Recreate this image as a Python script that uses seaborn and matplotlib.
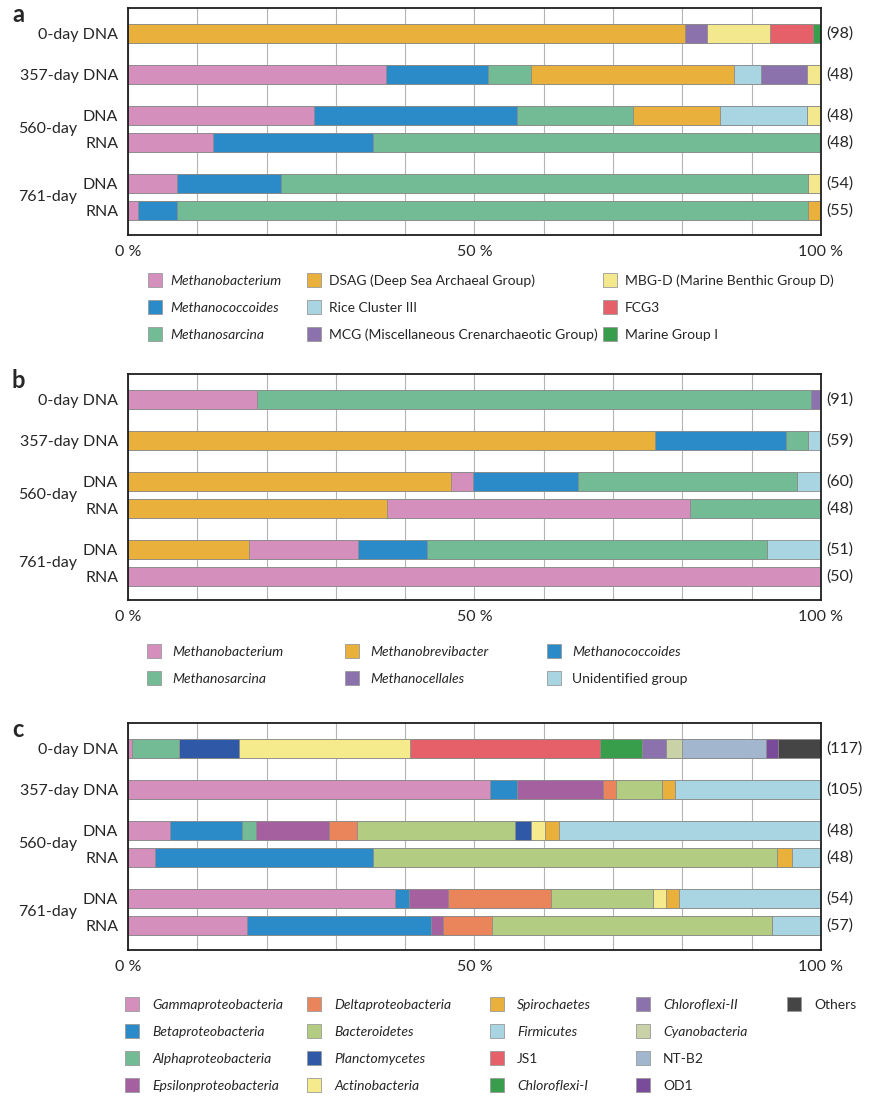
import numpy as np
import pandas as pd
import seaborn as sns
import matplotlib.pyplot as plt
from matplotlib.patches import Patch

sns.set_style("white")
plt.rcParams["font.family"] = ["Lato", "DejaVu Sans"]

# rows: 0-day DNA, 357-day DNA, 560-day DNA, 560-day RNA, 761-day DNA, 761-day RNA
row_labels = ["0-day DNA", "357-day DNA", "DNA", "RNA", "DNA", "RNA"]
day_labels = ["560-day", "761-day"]

# a: archaea (mcrA / 16S)
groups_a = ["Methanobacterium", "Methanococcoides", "Methanosarcina",
            "DSAG (Deep Sea Archaeal Group)", "Rice Cluster III",
            "MCG (Miscellaneous Crenarchaeotic Group)",
            "MBG-D (Marine Benthic Group D)", "FCG3", "Marine Group I"]
values_a = [
    [0, 0, 0, 80.4, 0, 3.2, 9.1, 6.2, 1.1],
    [37.2, 14.8, 6.2, 29.2, 4.0, 6.6, 2.0, 0, 0],
    [26.9, 29.2, 16.8, 12.5, 12.6, 0, 2.0, 0, 0],
    [12.2, 23.1, 64.7, 0, 0, 0, 0, 0, 0],
    [7.1, 15.0, 76.0, 0, 0, 0, 1.9, 0, 0],
    [1.5, 5.6, 91.0, 1.9, 0, 0, 0, 0, 0],
]
counts_a = [98, 48, 48, 48, 54, 55]

# b: methanogens
groups_b = ["Methanobrevibacter", "Methanobacterium", "Methanococcoides",
            "Methanosarcina", "Methanocellales", "Unidentified group"]
values_b = [
    [0, 18.6, 0, 80.0, 1.4, 0],
    [76.1, 0, 18.8, 3.2, 0, 1.9],
    [46.6, 3.2, 15.1, 31.7, 0, 3.4],
    [37.4, 43.7, 0, 18.9, 0, 0],
    [17.5, 15.7, 10.0, 49.0, 0, 7.8],
    [0, 100.0, 0, 0, 0, 0],
]
counts_b = [91, 59, 60, 48, 51, 50]
legend_b = ["Methanobacterium", "Methanosarcina", "Methanobrevibacter",
            "Methanocellales", "Methanococcoides", "Unidentified group"]

# c: bacteria
groups_c = ["Gammaproteobacteria", "Betaproteobacteria", "Alphaproteobacteria",
            "Epsilonproteobacteria", "Deltaproteobacteria", "Bacteroidetes",
            "Planctomycetes", "Actinobacteria", "Spirochaetes", "Firmicutes",
            "JS1", "Chloroflexi-I", "Chloroflexi-II", "Cyanobacteria", "NT-B2",
            "OD1", "Others"]
values_c = [
    [0.6, 0, 6.7, 0, 0, 0, 8.7, 24.7, 0, 0, 27.4, 6.0, 3.5, 2.4, 12.1, 1.7, 6.2],
    [52.2, 3.9, 0, 12.4, 1.9, 6.6, 0, 0, 2.0, 21.0, 0, 0, 0, 0, 0, 0, 0],
    [6.0, 10.5, 1.9, 10.6, 4.1, 22.8, 2.2, 2.1, 2.0, 37.8, 0, 0, 0, 0, 0, 0, 0],
    [3.9, 31.4, 0, 0, 0, 58.4, 0, 0, 2.1, 4.2, 0, 0, 0, 0, 0, 0, 0],
    [38.6, 2.0, 0, 5.6, 14.8, 14.8, 0, 1.8, 1.9, 20.5, 0, 0, 0, 0, 0, 0, 0],
    [17.2, 26.5, 0, 1.8, 7.0, 40.5, 0, 0, 0, 7.0, 0, 0, 0, 0, 0, 0, 0],
]
counts_c = [117, 105, 48, 48, 54, 57]

colors = {
    "Methanobacterium": "#d48fbd", "Methanococcoides": "#2a8bc8",
    "Methanosarcina": "#72bb94", "DSAG (Deep Sea Archaeal Group)": "#e9b13b",
    "Rice Cluster III": "#a9d5e3",
    "MCG (Miscellaneous Crenarchaeotic Group)": "#8b72ad",
    "MBG-D (Marine Benthic Group D)": "#f4e88f", "FCG3": "#e6606a",
    "Marine Group I": "#399e4b", "Methanobrevibacter": "#e9b13b",
    "Methanocellales": "#8b72ad", "Unidentified group": "#a9d5e3",
    "Gammaproteobacteria": "#d48fbd", "Betaproteobacteria": "#2a8bc8",
    "Alphaproteobacteria": "#72bb94", "Epsilonproteobacteria": "#a5609f",
    "Deltaproteobacteria": "#ea845a", "Bacteroidetes": "#b2cd81",
    "Planctomycetes": "#2f58a6", "Actinobacteria": "#f5eb8d",
    "Spirochaetes": "#e9b13b", "Firmicutes": "#a9d5e3", "JS1": "#e6606a",
    "Chloroflexi-I": "#399e4b", "Chloroflexi-II": "#8b72ad",
    "Cyanobacteria": "#c9d2a6", "NT-B2": "#a2b7cd", "OD1": "#7b4b9b",
    "Others": "#454545",
}
upright = {"DSAG (Deep Sea Archaeal Group)", "Rice Cluster III",
           "MCG (Miscellaneous Crenarchaeotic Group)",
           "MBG-D (Marine Benthic Group D)", "FCG3", "Marine Group I",
           "Unidentified group", "JS1", "NT-B2", "OD1", "Others"}

# layout (pixels of the 878x1097 figure)
W, H = 878, 1097
row_pos = [0, 41, 82, 109, 150, 177]
bar_w = 19 / 27
edge = "#8c8c8c"


def fx(px):
    return px / W


def fy(py):
    return 1 - py / H


fig = plt.figure(figsize=(W / 100, H / 100), dpi=100)


def draw_panel(top, bottom, letter, groups, values, counts):
    ax = fig.add_axes([fx(128), fy(bottom), (821 - 128) / W, (bottom - top) / H])
    cum = np.array(values).cumsum(axis=1)
    # overlay cumulative bars, widest first
    for j in range(len(groups) - 1, -1, -1):
        df = pd.DataFrame({"pos": row_pos, "cum": cum[:, j]})
        sns.barplot(data=df, x="cum", y="pos", orient="y", native_scale=True,
                    color=colors[groups[j]], saturation=1, width=bar_w,
                    edgecolor=edge, linewidth=0.6, errorbar=None, ax=ax)
    ax.set_xlim(0, 100)
    ax.set_ylim(201, -25.5)
    ax.set_xlabel("")
    ax.set_ylabel("")
    ax.set_xticks([0, 50, 100], ["0 %", "50 %", "100 %"])
    ax.set_xticks(range(10, 100, 10), minor=True)
    ax.set_yticks(row_pos, row_labels)
    ax.tick_params(axis="both", which="both", length=0, labelsize=11.5)
    ax.tick_params(axis="y", pad=7)
    ax.tick_params(axis="x", pad=7)
    ax.grid(axis="x", which="both", color="#b4b4b4", linewidth=0.8)
    ax.set_axisbelow(True)
    for s in ax.spines.values():
        s.set_color("#1e1e1e")
        s.set_linewidth(1.3)
    tr = ax.get_yaxis_transform()
    for k, lab in enumerate(day_labels):
        mid = (row_pos[2 + 2 * k] + row_pos[3 + 2 * k]) / 2
        ax.text(-0.0736, mid, lab, transform=tr, ha="right", va="center",
                fontsize=11.5)
    for p, n in zip(row_pos, counts):
        ax.text(1.008, p, f"({n})", transform=tr, ha="left", va="center",
                fontsize=11.5)
    fig.text(fx(12), fy(top + 14), letter, fontsize=17, fontweight="bold")
    return ax


def add_legend(names, col_x, row_y, text_off, nrows, fs=10):
    fs_px = fs * 100 / 72
    for k, name in enumerate(names):
        c, r = divmod(k, nrows)
        h = Patch(facecolor=colors[name], edgecolor="#9a9a9a", linewidth=0.6)
        style = "normal" if name in upright else "italic"
        fig.legend([h], [name], loc="center left",
                   bbox_to_anchor=(fx(col_x[c]), fy(row_y[r])),
                   frameon=False, borderpad=0, borderaxespad=0,
                   handlelength=14 / fs_px, handleheight=1.17,
                   handletextpad=(text_off - 14) / fs_px,
                   prop={"style": style, "size": fs})


draw_panel(8, 235, "a", groups_a, values_a, counts_a)
add_legend(groups_a, [148, 307, 603], [280, 307, 334], 22, 3)

draw_panel(374, 600, "b", groups_b, values_b, counts_b)
add_legend(legend_b, [147, 345, 547], [651, 678], 25, 2)

draw_panel(723, 950, "c", groups_c, values_c, counts_c)
add_legend(groups_c, [125, 307, 490, 636, 787], [1004, 1031, 1058, 1085], 27, 4)

fig.savefig("out.png", dpi=100)
